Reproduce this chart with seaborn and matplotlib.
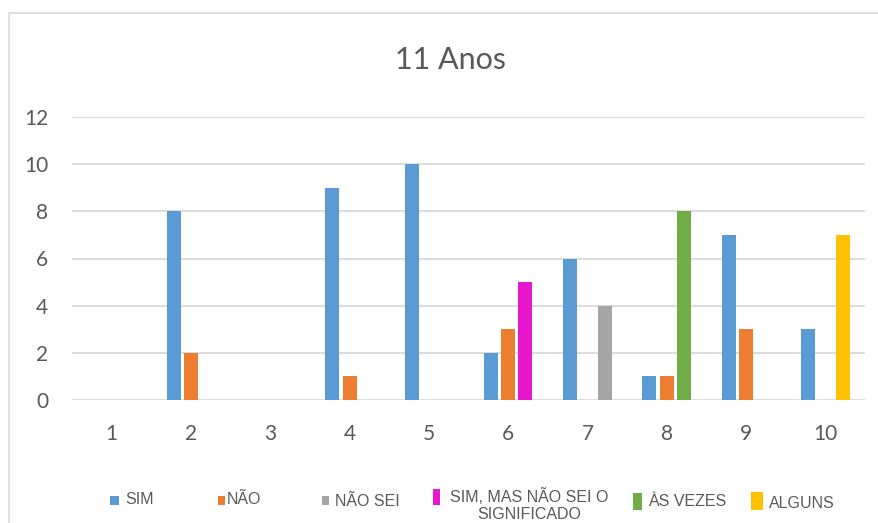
import matplotlib
matplotlib.use("Agg")
import matplotlib.pyplot as plt
from matplotlib.patches import Rectangle
import seaborn as sns
import pandas as pd

# Survey answers per question (1..10) for the 11-year-old group
questions = ["1", "2", "3", "4", "5", "6", "7", "8", "9", "10"]
sim = [0, 8, 0, 9, 10, 2, 6, 1, 7, 3]
nao = [0, 2, 0, 1, 0, 3, 0, 1, 3, 0]
# third answer slot: value and which answer it is
outra = [0, 0, 0, 0, 0, 5, 4, 8, 0, 7]
outra_tipo = ["NÃO SEI", "NÃO SEI", "NÃO SEI", "NÃO SEI", "NÃO SEI",
              "SIM, MAS NÃO SEI O SIGNIFICADO", "NÃO SEI", "ÀS VEZES",
              "NÃO SEI", "ALGUNS"]

legend_labels = ["SIM", "NÃO", "NÃO SEI", "SIM, MAS NÃO SEI O\nSIGNIFICADO",
                 "ÀS VEZES", "ALGUNS"]
colors = {
    "SIM": "#5B9BD5",
    "NÃO": "#ED7D31",
    "NÃO SEI": "#A5A5A5",
    "SIM, MAS NÃO SEI O SIGNIFICADO": "#E617CC",
    "ÀS VEZES": "#70AD47",
    "ALGUNS": "#FFC000",
}

rows = []
for q, a, b, c in zip(questions, sim, nao, outra):
    rows.append({"q": q, "slot": "a", "v": a})
    rows.append({"q": q, "slot": "b", "v": b})
    rows.append({"q": q, "slot": "c", "v": c})
df = pd.DataFrame(rows)

sns.set_theme(style="white")
plt.rcParams["font.family"] = ["Lato", "DejaVu Sans"]

W, H = 879, 523
fig = plt.figure(figsize=(W / 100, H / 100), dpi=100)

def fx(px):
    return px / W

def fy(py):
    return 1 - py / H

ax = fig.add_axes([fx(72), fy(400), fx(865) - fx(72), fy(117) - fy(400)])

sns.barplot(data=df, x="q", y="v", hue="slot", order=questions,
            hue_order=["a", "b", "c"],
            palette=[colors["SIM"], colors["NÃO"], colors["NÃO SEI"]],
            width=0.654, gap=0.19, legend=False, ax=ax, saturation=1)

for patch, tipo in zip(ax.containers[2].patches, outra_tipo):
    patch.set_facecolor(colors[tipo])
for cont in ax.containers:
    for p in cont.patches:
        p.set_edgecolor("none")
        p.set_zorder(3)

ax.set_xlim(-0.5, 9.5)
ax.set_ylim(0, 12)
ax.set_yticks(range(0, 13, 2))
ax.set_xlabel("")
ax.set_ylabel("")
for s in ax.spines.values():
    s.set_visible(False)
ax.yaxis.grid(True, color="#D9D9D9", linewidth=1.3, zorder=0)
ax.set_axisbelow(True)
ax.tick_params(axis="both", length=0, labelsize=15, labelcolor="#595959")
ax.tick_params(axis="y", pad=17)
ax.tick_params(axis="x", pad=17)

fig.text(fx(451), fy(60), "11 Anos", ha="center", va="center",
         fontsize=22, color="#595959")

# chart frame (open on the right edge)
fig.lines.append(plt.Line2D([fx(9), fx(9), fx(W + 5)], [fy(H + 5), fy(13), fy(13)],
                            transform=fig.transFigure, color="#D9D9D9",
                            linewidth=1.2))

# legend entries placed along the bottom
leg_font = ["Liberation Sans Narrow", "Liberation Sans", "DejaVu Sans"]
entries = [
    # (label, marker x0, marker x1, marker y0, marker y1, text x, text y)
    (legend_labels[0], 110, 119, 496, 505, 125, 500),
    (legend_labels[1], 218, 225, 496, 505, 227, 500),
    (legend_labels[2], 322, 329, 496, 505, 335, 501),
    (legend_labels[3], 433, 440, 489, 505, 529, 505),
    (legend_labels[4], 633, 642, 493, 510, 648, 502),
    (legend_labels[5], 751, 763, 492, 510, 769, 503),
]
color_keys = ["SIM", "NÃO", "NÃO SEI", "SIM, MAS NÃO SEI O SIGNIFICADO",
              "ÀS VEZES", "ALGUNS"]
for (lab, x0, x1, y0, y1, tx, ty), key in zip(entries, color_keys):
    fig.patches.append(Rectangle((fx(x0), fy(y1)), fx(x1) - fx(x0),
                                 fy(y0) - fy(y1), transform=fig.transFigure,
                                 facecolor=colors[key], edgecolor="none"))
    if "\n" in lab:
        fig.text(fx(tx), fy(ty), lab, ha="center", va="center",
                 fontsize=11.5, color="#595959", family=leg_font,
                 linespacing=1.12, multialignment="center")
    else:
        fig.text(fx(tx), fy(ty), lab, ha="left", va="center",
                 fontsize=11.5, color="#595959", family=leg_font)

fig.savefig("out.png", dpi=100, facecolor="white")
